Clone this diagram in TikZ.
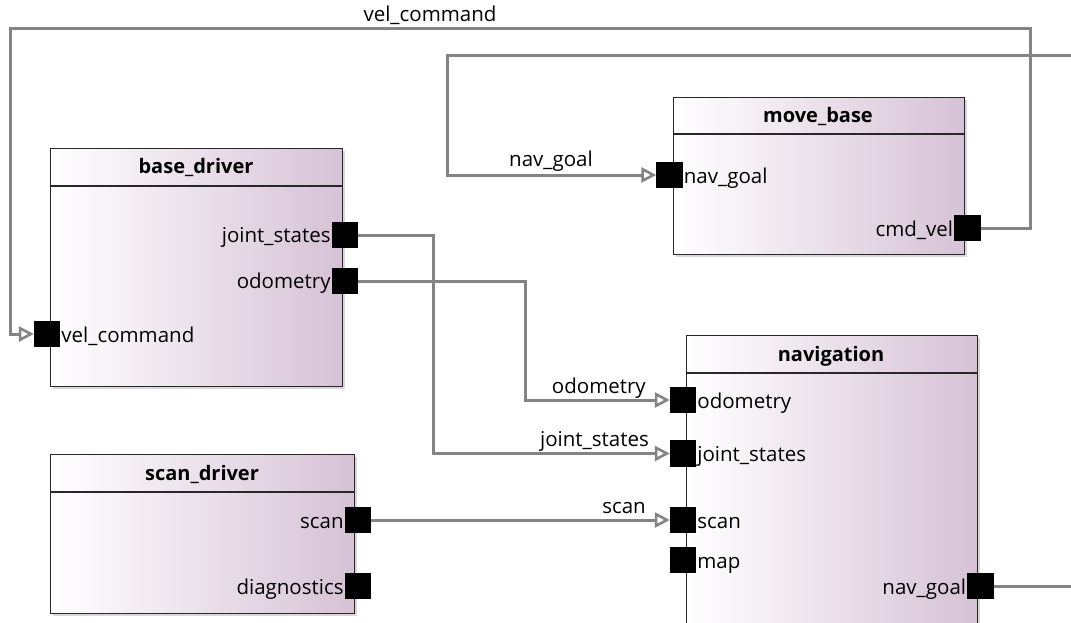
\documentclass[tikz,border=0pt]{standalone}
\usepackage{fontspec}
\setmainfont{Open Sans}
\usetikzlibrary{arrows.meta,shadows}
\definecolor{boxpurple}{RGB}{214,194,214}
\definecolor{wire}{RGB}{132,132,132}
\definecolor{boxline}{RGB}{40,40,40}
\begin{document}
\begin{tikzpicture}[x=1pt,y=-1pt,
  compbox/.style={draw=boxline, line width=1.4pt, rectangle, anchor=north west, inner sep=0pt,
    left color=white, right color=boxpurple,
    drop shadow={shadow xshift=2pt, shadow yshift=-2pt, fill=black!25, opacity=0.6}},
  hdr/.style={draw=boxline, line width=1.4pt},
  title/.style={font=\fontsize{20}{24}\selectfont\bfseries, anchor=base, inner sep=0pt},
  port/.style={fill=black, draw=none, minimum size=26pt, inner sep=0pt, rectangle},
  plabel/.style={font=\fontsize{20.5}{24}\selectfont, inner sep=0pt},
  wlabel/.style={font=\fontsize{20.5}{24}\selectfont, inner sep=0pt},
  wire/.style={draw=wire, line width=3pt},
  flow/.style={wire, -{Triangle[open, length=15pt, width=15pt, line width=2.6pt]}},
]
\clip (0,0) rectangle (1071,623);
\useasboundingbox (0,0) rectangle (1071,623);
\fill[white] (0,0) rectangle (1071,623);

% components
\node[compbox, minimum width=292pt, minimum height=238pt] (bd) at (50,148) {};
\draw[hdr] ([yshift=-38pt]bd.north west) -- ([yshift=-38pt]bd.north east);
\node[title] (bd-t) at (196,174) {base\_driver};

\node[compbox, minimum width=291pt, minimum height=157pt] (mb) at (673,97) {};
\draw[hdr] ([yshift=-37pt]mb.north west) -- ([yshift=-37pt]mb.north east);
\node[title] (mb-t) at (818,123) {move\_base};

\node[compbox, minimum width=291pt, minimum height=310pt] (nv) at (686,335) {};
\draw[hdr] ([yshift=-38pt]nv.north west) -- ([yshift=-38pt]nv.north east);
\node[title] (nv-t) at (831,361) {navigation};

\node[compbox, minimum width=304pt, minimum height=159pt] (sd) at (50,454) {};
\draw[hdr] ([yshift=-38pt]sd.north west) -- ([yshift=-38pt]sd.north east);
\node[title] (sd-t) at (202,480) {scan\_driver};

% ports
\node[port] (bd-vel) at (47,334) {};
\node[port] (bd-js) at (345,235) {};
\node[port] (bd-odo) at (345,281) {};
\node[port] (mb-nav) at (669.5,175) {};
\node[port] (mb-cmd) at (967.5,228) {};
\node[port] (nv-odo) at (683,400) {};
\node[port] (nv-js) at (683,453.5) {};
\node[port] (nv-scan) at (683,520) {};
\node[port] (nv-map) at (683,560) {};
\node[port] (nv-goal) at (980.5,586) {};
\node[port] (sd-scan) at (358,520) {};
\node[port] (sd-diag) at (358,586) {};

% port labels
\node[plabel, anchor=base west] (bd-vel-l) at ([xshift=1pt,yshift=-8pt]bd-vel.east) {vel\_command};
\node[plabel, anchor=base east] (bd-js-l) at ([xshift=-1pt,yshift=-7pt]bd-js.west) {joint\_states};
\node[plabel, anchor=base east] (bd-odo-l) at ([xshift=-1pt,yshift=-7pt]bd-odo.west) {odometry};
\node[plabel, anchor=base west] (mb-nav-l) at ([xshift=1pt,yshift=-8pt]mb-nav.east) {nav\_goal};
\node[plabel, anchor=base east] (mb-cmd-l) at ([xshift=-1pt,yshift=-8pt]mb-cmd.west) {cmd\_vel};
\node[plabel, anchor=base west] (nv-odo-l) at ([xshift=1pt,yshift=-8pt]nv-odo.east) {odometry};
\node[plabel, anchor=base west] (nv-js-l) at ([xshift=1pt,yshift=-8pt]nv-js.east) {joint\_states};
\node[plabel, anchor=base west] (nv-scan-l) at ([xshift=1pt,yshift=-8pt]nv-scan.east) {scan};
\node[plabel, anchor=base west] (nv-map-l) at ([xshift=1pt,yshift=-8pt]nv-map.east) {map};
\node[plabel, anchor=base east] (nv-goal-l) at ([xshift=-1pt,yshift=-8pt]nv-goal.west) {nav\_goal};
\node[plabel, anchor=base east] (sd-scan-l) at ([xshift=-1pt,yshift=-8pt]sd-scan.west) {scan};
\node[plabel, anchor=base east] (sd-diag-l) at ([xshift=-1pt,yshift=-8pt]sd-diag.west) {diagnostics};

% routing coordinates
\coordinate (vc-r) at (1030,29);
\coordinate (vc-l) at (10,29);
\coordinate (ng-out) at (1080,586);
\coordinate (ng-in) at (1080,56);
\coordinate (ng-c) at (447,56);
\coordinate (js-c) at (433,0);
\coordinate (od-c) at (525,0);

% connectors
\draw[flow] (mb-cmd.east) -| (vc-r) -- (vc-l) |- (bd-vel.west);
\draw[wire] (nv-goal.east) -- (ng-out);
\draw[flow] (ng-in) -- (ng-c) |- (mb-nav.west);
\draw[flow] (bd-js.east) -- (bd-js.east -| js-c) |- (nv-js.west);
\draw[flow] (bd-odo.east) -- (bd-odo.east -| od-c) |- (nv-odo.west);
\draw[flow] (sd-scan.east) -- (nv-scan.west);

% redraw ports above wires
\foreach \p in {bd-vel,bd-js,bd-odo,mb-nav,mb-cmd,nv-odo,nv-js,nv-scan,nv-goal,sd-scan}
  \fill[black] (\p.south west) rectangle (\p.north east);

% wire labels
\node[wlabel, anchor=base] (l-vc) at (430,22) {vel\_command};
\node[wlabel, anchor=base] (l-ng) at (551,167) {nav\_goal};
\node[wlabel, anchor=base east] (l-od) at (646,393) {odometry};
\node[wlabel, anchor=base east] (l-js) at (649,446) {joint\_states};
\node[wlabel, anchor=base east] (l-sc) at (646,513) {scan};
\end{tikzpicture}
\end{document}
